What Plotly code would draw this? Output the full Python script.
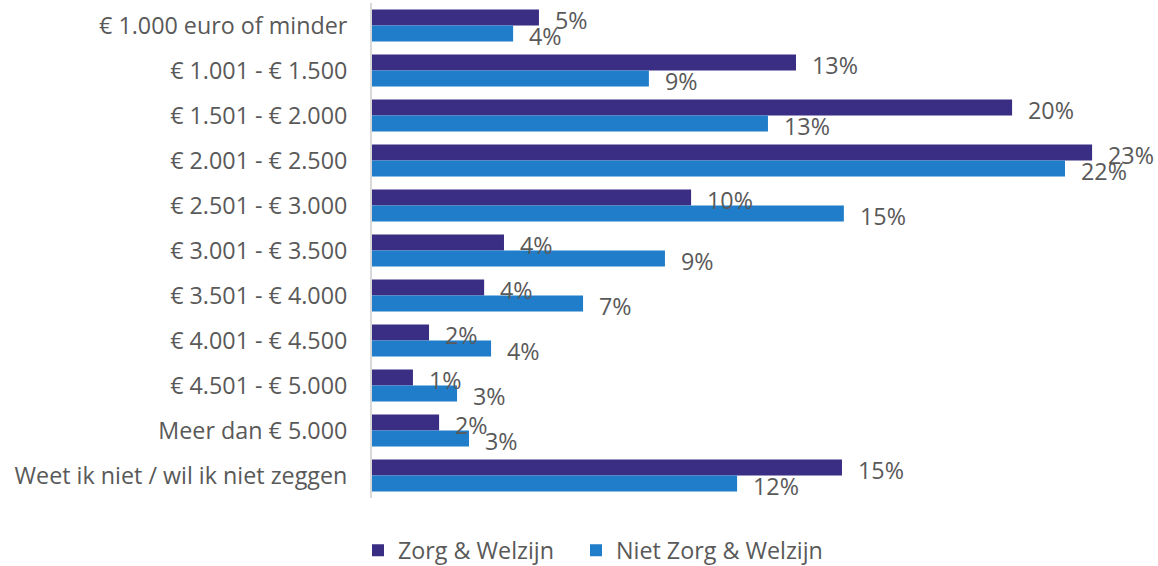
import plotly.graph_objects as go

categories = [
    "€ 1.000 euro of minder",
    "€ 1.001 - € 1.500",
    "€ 1.501 - € 2.000",
    "€ 2.001 - € 2.500",
    "€ 2.501 - € 3.000",
    "€ 3.001 - € 3.500",
    "€ 3.501 - € 4.000",
    "€ 4.001 - € 4.500",
    "€ 4.501 - € 5.000",
    "Meer dan € 5.000",
    "Weet ik niet / wil ik niet zeggen",
]
zorg_values = [5.30, 13.46, 20.32, 22.86, 10.13, 4.19, 3.56, 1.81, 1.30, 2.13, 14.92]
niet_zorg_values = [4.48, 8.79, 12.57, 22.00, 14.98, 9.30, 6.70, 3.78, 2.70, 3.08, 11.59]
series_names = ["Zorg & Welzijn", "Niet Zorg & Welzijn"]
series_colors = ["#392E84", "#1F7DC9"]

FONT = "Open Sans"
TXT = "#595959"
SIZE = 23.3

fig = go.Figure()
legend_ids = ["legend", "legend2"]
for name, vals, col, lg in zip(series_names, [zorg_values, niet_zorg_values],
                               series_colors, legend_ids):
    fig.add_trace(go.Bar(
        y=categories, x=vals, name=name, orientation="h",
        marker=dict(color=col, line=dict(width=0)),
        hoverinfo="skip", legend=lg,
    ))

annotations = []
for vals, ys in [(zorg_values, 6), (niet_zorg_values, -10)]:
    for c, v in zip(categories, vals):
        annotations.append(dict(
            x=v, y=c, xref="x", yref="y", text=f"{round(v)}%",
            showarrow=False, xanchor="left", yanchor="middle",
            xshift=14, yshift=ys,
            font=dict(family=FONT, size=SIZE, color=TXT),
        ))

legend_common = dict(
    orientation="h", xref="container", yref="container",
    xanchor="left", y=0.027, yanchor="middle",
    font=dict(family=FONT, size=SIZE, color=TXT),
    bgcolor="rgba(0,0,0,0)",
)

fig.update_layout(
    width=1158, height=566,
    margin=dict(l=372, r=20, t=2.5, b=67.5, autoexpand=False),
    paper_bgcolor="white", plot_bgcolor="white",
    barmode="group", bargap=0.29, bargroupgap=0,
    font=dict(family=FONT, size=SIZE, color=TXT),
    annotations=annotations,
    showlegend=True,
    legend=dict(x=(380 - 22) / 1158, **legend_common),
    legend2=dict(x=(598 - 22) / 1158, **legend_common),
    xaxis=dict(range=[0, 766 / 31.5], showgrid=False, zeroline=False,
               showticklabels=False, showline=False, fixedrange=True,
               automargin=False),
    yaxis=dict(range=[len(categories) - 0.5, -0.5], showgrid=False, zeroline=False,
               showline=True, linecolor="#D9D9D9", linewidth=2,
               ticks="", ticklabelstandoff=18, automargin=False,
               tickfont=dict(family=FONT, size=SIZE, color=TXT)),
)

fig.write_html("out.html", config={"displayModeBar": False},
               post_script="document.body.style.margin='0';")
